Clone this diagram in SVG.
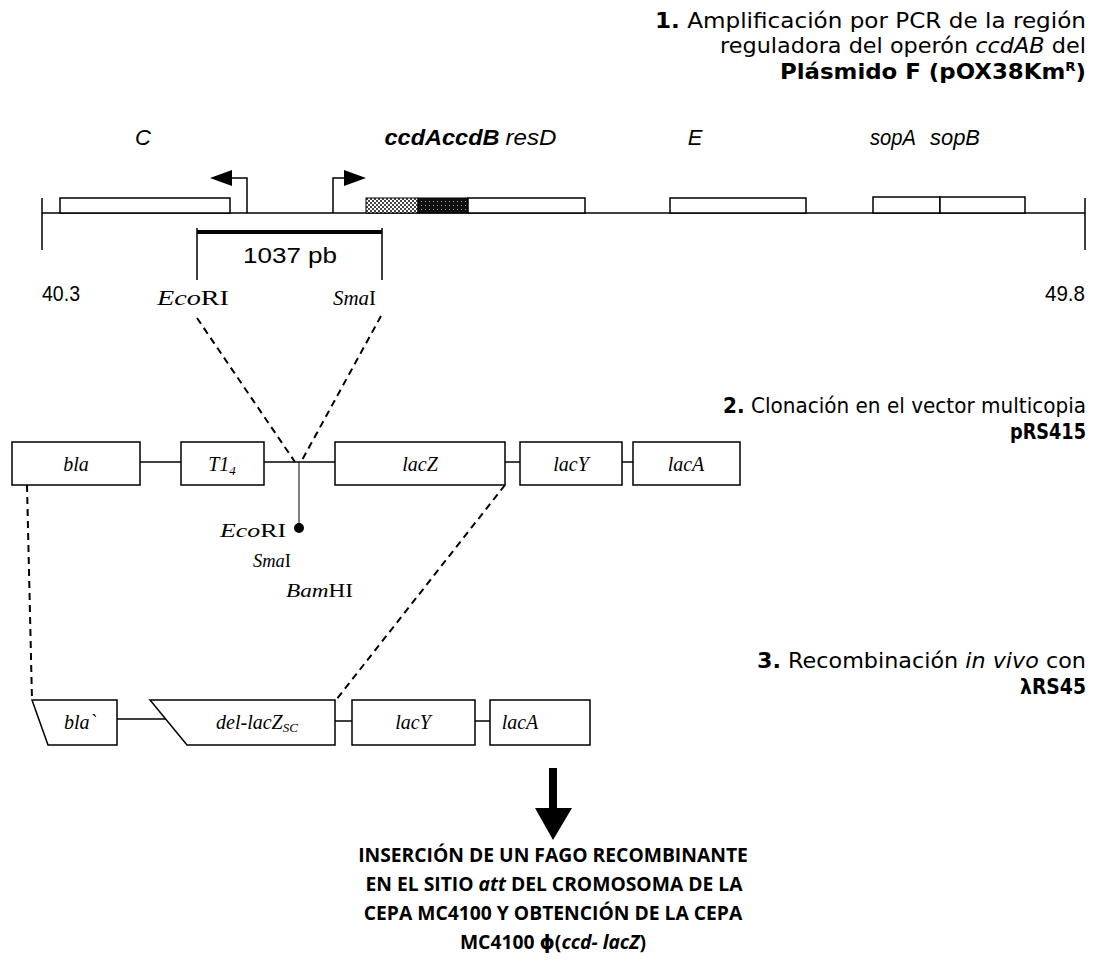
<svg xmlns="http://www.w3.org/2000/svg" width="1099" height="973" viewBox="0 0 1099 973">
<defs>
<pattern id="stip" width="4" height="4" patternUnits="userSpaceOnUse"><rect width="4" height="4" fill="#fff"/><rect width="2" height="2" fill="#444"/><rect x="2" y="2" width="2" height="2" fill="#444"/></pattern>
<pattern id="dark" width="4" height="4" patternUnits="userSpaceOnUse"><rect width="4" height="4" fill="#111"/><rect x="1" y="1" width="1" height="1" fill="#999"/></pattern>
</defs>
<style>
.ln{stroke:#000;stroke-width:1.5;fill:none}
.box{fill:#fff;stroke:#000;stroke-width:1.5}
.dash{stroke:#000;stroke-width:2;stroke-dasharray:7 5;fill:none}
.hd{font-family:"DejaVu Sans",Verdana,sans-serif;font-size:20.5px;fill:#000}
.gl{font-family:"Liberation Sans",Arial,sans-serif;font-style:italic;font-size:22px;fill:#000}
.ss{font-family:"Liberation Sans",Arial,sans-serif;font-size:22px;fill:#000}
.tm{font-family:"Liberation Serif","Times New Roman",serif;font-size:21px;fill:#000}
.tm2{font-family:"Liberation Serif","Times New Roman",serif;font-size:19px;fill:#000}
.ti{font-family:"Liberation Serif","Times New Roman",serif;font-style:italic;font-size:20px;fill:#000}
.bt{font-family:"Open Sans","DejaVu Sans",sans-serif;font-size:19.3px;font-weight:bold;fill:#000}
</style>

<g id="step1" class="hd" text-anchor="end">
<text x="1086" y="28" textLength="431" lengthAdjust="spacingAndGlyphs"><tspan font-weight="bold">1.</tspan> Amplificación por PCR de la región</text>
<text x="1086" y="53" textLength="366" lengthAdjust="spacingAndGlyphs">reguladora del operón <tspan font-style="italic">ccdAB</tspan> del</text>
<text x="1086" y="79" textLength="306" lengthAdjust="spacingAndGlyphs" font-weight="bold">Plásmido F (pOX38Km<tspan font-size="12" dy="-8">R</tspan><tspan dy="8">)</tspan></text>
</g>

<g id="plasmidF">
<line class="ln" x1="42" y1="213" x2="1085" y2="213"/>
<line class="ln" x1="42" y1="198" x2="42" y2="250"/>
<line class="ln" x1="1085" y1="198" x2="1085" y2="250"/>
<rect class="box" x="60" y="198" width="170" height="15"/>
<rect x="366" y="198" width="52" height="15" fill="url(#stip)" stroke="#000" stroke-width="1"/>
<rect x="418" y="198" width="50" height="15" fill="url(#dark)" stroke="#000" stroke-width="1"/>
<rect class="box" x="468" y="198" width="117" height="15"/>
<rect class="box" x="670" y="198" width="136" height="15"/>
<rect class="box" x="873" y="197" width="67" height="16"/>
<rect class="box" x="940" y="197" width="85" height="16"/>
<polyline class="ln" points="247,213 247,178 230,178"/>
<polygon points="210,178 232,170 232,186" fill="#000"/>
<polyline class="ln" points="333,213 333,178 346,178"/>
<polygon points="366,178 344,170 344,186" fill="#000"/>
<line x1="197" y1="232" x2="382" y2="232" stroke="#000" stroke-width="4"/>
<line class="ln" x1="197" y1="228" x2="197" y2="280"/>
<line class="ln" x1="382" y1="228" x2="382" y2="280"/>
<text class="gl" x="143" y="145" text-anchor="middle">C</text>
<text class="gl" x="442" y="145" text-anchor="middle" font-weight="bold" textLength="115" lengthAdjust="spacingAndGlyphs">ccdAccdB</text>
<text class="gl" x="531" y="145" text-anchor="middle" textLength="51" lengthAdjust="spacingAndGlyphs">resD</text>
<text class="gl" x="695" y="145" text-anchor="middle">E</text>
<text class="gl" x="893" y="145" text-anchor="middle" textLength="46" lengthAdjust="spacingAndGlyphs">sopA</text>
<text class="gl" x="955" y="145" text-anchor="middle" textLength="50" lengthAdjust="spacingAndGlyphs">sopB</text>
<text class="ss" x="290" y="263" text-anchor="middle" textLength="94" lengthAdjust="spacingAndGlyphs">1037 pb</text>
<text class="ss" x="42" y="301" textLength="38" lengthAdjust="spacingAndGlyphs">40.3</text>
<text class="ss" x="1085" y="301" text-anchor="end" textLength="40" lengthAdjust="spacingAndGlyphs">49.8</text>
<text class="tm" x="157" y="305" textLength="72" lengthAdjust="spacingAndGlyphs"><tspan font-style="italic">Eco</tspan>RI</text>
<text class="tm" x="333" y="305" textLength="43" lengthAdjust="spacingAndGlyphs"><tspan font-style="italic">Sma</tspan>I</text>
</g>

<g id="step2" class="hd" text-anchor="end">
<text x="1086" y="413" textLength="363" lengthAdjust="spacingAndGlyphs"><tspan font-weight="bold">2.</tspan> Clonación en el vector multicopia</text>
<text x="1086" y="439" font-weight="bold" textLength="76" lengthAdjust="spacingAndGlyphs">pRS415</text>
</g>

<g id="pRS415">
<line class="ln" x1="140" y1="462" x2="181" y2="462"/>
<line class="ln" x1="264" y1="462" x2="335" y2="462"/>
<line class="ln" x1="505" y1="462" x2="520" y2="462"/>
<line class="ln" x1="622" y1="462" x2="633" y2="462"/>
<rect class="box" x="12" y="442" width="128" height="43"/>
<rect class="box" x="181" y="442" width="83" height="43"/>
<rect class="box" x="335" y="442" width="170" height="43"/>
<rect class="box" x="520" y="442" width="102" height="43"/>
<rect class="box" x="633" y="442" width="107" height="43"/>
<text class="ti" x="76" y="471" text-anchor="middle">bla</text>
<text class="ti" x="222" y="471" text-anchor="middle">T1<tspan font-size="13" dy="4">4</tspan></text>
<text class="ti" x="420" y="471" text-anchor="middle">lacZ</text>
<text class="ti" x="571" y="471" text-anchor="middle">lacY</text>
<text class="ti" x="686" y="471" text-anchor="middle">lacA</text>
<line x1="299" y1="462" x2="299" y2="527" stroke="#000" stroke-width="1"/>
<circle cx="299" cy="528" r="5" fill="#000"/>
<text class="tm2" x="220" y="537" textLength="66" lengthAdjust="spacingAndGlyphs"><tspan font-style="italic">Eco</tspan>RI</text>
<text class="tm2" x="253" y="567" textLength="38" lengthAdjust="spacingAndGlyphs"><tspan font-style="italic">Sma</tspan>I</text>
<text class="tm2" x="286" y="597" textLength="67" lengthAdjust="spacingAndGlyphs"><tspan font-style="italic">Bam</tspan>HI</text>
</g>

<g id="step3" class="hd" text-anchor="end">
<text x="1086" y="668" textLength="329" lengthAdjust="spacingAndGlyphs"><tspan font-weight="bold">3.</tspan> Recombinación <tspan font-style="italic">in vivo</tspan> con</text>
<text x="1086" y="694" font-weight="bold" textLength="66" lengthAdjust="spacingAndGlyphs">λRS45</text>
</g>

<g id="lambdaRS45">
<line class="ln" x1="117" y1="719" x2="166" y2="719"/>
<line class="ln" x1="335" y1="721" x2="352" y2="721"/>
<line class="ln" x1="475" y1="721" x2="490" y2="721"/>
<polygon class="box" points="32,700 117,700 117,745 48,745"/>
<polygon class="box" points="150,700 335,700 335,745 187,745"/>
<rect class="box" x="352" y="700" width="123" height="45"/>
<rect class="box" x="490" y="700" width="100" height="45"/>
<text class="ti" x="80" y="729" text-anchor="middle">bla`</text>
<text class="ti" x="257" y="729" text-anchor="middle">del-lacZ<tspan font-size="13" dy="3">SC</tspan></text>
<text class="ti" x="413" y="729" text-anchor="middle">lacY</text>
<text class="ti" x="520" y="729" text-anchor="middle">lacA</text>
</g>

<g id="connectors">
<line class="dash" x1="197" y1="318" x2="295" y2="462"/>
<line class="dash" x1="381" y1="316" x2="301" y2="462"/>
<line class="dash" x1="27" y1="485" x2="32" y2="700"/>
<line class="dash" x1="505" y1="485" x2="336" y2="700"/>
<line x1="553" y1="768" x2="553" y2="812" stroke="#000" stroke-width="8"/>
<polygon points="535,808 572,808 553,840" fill="#000"/>
</g>

<g id="result" class="bt" text-anchor="middle">
<text x="553" y="862">INSERCIÓN DE UN FAGO RECOMBINANTE</text>
<text x="554" y="891">EN EL SITIO <tspan font-style="italic">att</tspan> DEL CROMOSOMA DE LA</text>
<text x="553" y="920">CEPA MC4100 Y OBTENCIÓN DE LA CEPA</text>
<text x="553" y="949">MC4100 ϕ(<tspan font-style="italic">ccd- lacZ</tspan>)</text>
</g>
</svg>
